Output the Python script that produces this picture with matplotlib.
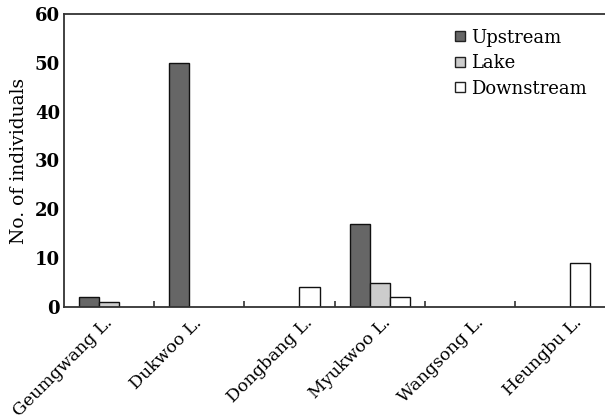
import matplotlib

matplotlib.use("Agg")
import matplotlib.pyplot as plt
import numpy as np
from matplotlib.lines import Line2D

lakes = ["Geumgwang L.", "Dukwoo L.", "Dongbang L.", "Myukwoo L.", "Wangsong L.", "Heungbu L."]
upstream = [2, 50, 0, 17, 0, 0]
lake = [1, 0, 0, 5, 0, 0]
downstream = [0, 0, 4, 2, 0, 9]
series_names = ["Upstream", "Lake", "Downstream"]
y_ticks = [0, 10, 20, 30, 40, 50, 60]

# label anchors drift a little from the category centres in the original
label_shift = [-0.06, -0.07, 0.16, 0.03, 0.06, 0.15]

colors = ["#666666", "#cccccc", "#ffffff"]
plt.rcParams["font.family"] = "DejaVu Serif"

fig = plt.figure(figsize=(6.05, 4.2), dpi=100)
ax = fig.add_axes([0.106, 0.269, 0.894, 0.698])

x = np.arange(len(lakes))
w = 0.222
for i, (vals, c) in enumerate(zip([upstream, lake, downstream], colors)):
    xs = x + (i - 1) * w
    for xi, v in zip(xs, vals):
        if v > 0:
            ax.bar(xi, v, width=w, color=c, edgecolor="#111111", linewidth=1.0, zorder=2)

ax.set_xlim(-0.5, 5.5)
ax.set_ylim(0, 60)
ax.spines["right"].set_visible(False)
for s in ["left", "top", "bottom"]:
    ax.spines[s].set_linewidth(1.3)
    ax.spines[s].set_color("#333333")

ax.set_yticks(y_ticks)
ax.set_yticklabels([str(t) for t in y_ticks], fontsize=13, fontweight="bold")
ax.tick_params(axis="y", length=0, pad=3)

ax.set_xticks(x + np.array(label_shift))
ax.set_xticklabels(lakes, rotation=45, ha="right", rotation_mode="anchor", fontsize=12.5)
ax.tick_params(axis="x", length=0, pad=5)
ax.set_xticks(np.arange(0.5, 5.5, 1.0), minor=True)
ax.tick_params(axis="x", which="minor", direction="in", length=4, width=1.2, color="#333333")

ax.set_ylabel("No. of individuals", fontsize=13.5, labelpad=5)

handles = [Line2D([0], [0], marker="s", linestyle="none", markersize=7.5,
                  markerfacecolor=c, markeredgecolor="#222222", markeredgewidth=1.0)
           for c in colors]
fig.legend(handles, series_names, loc="upper left", bbox_to_anchor=(0.749, 0.932),
           frameon=False, fontsize=13, handlelength=0.8, handletextpad=0.2,
           labelspacing=0.42, borderpad=0, borderaxespad=0)

fig.savefig("out.png", dpi=100)
